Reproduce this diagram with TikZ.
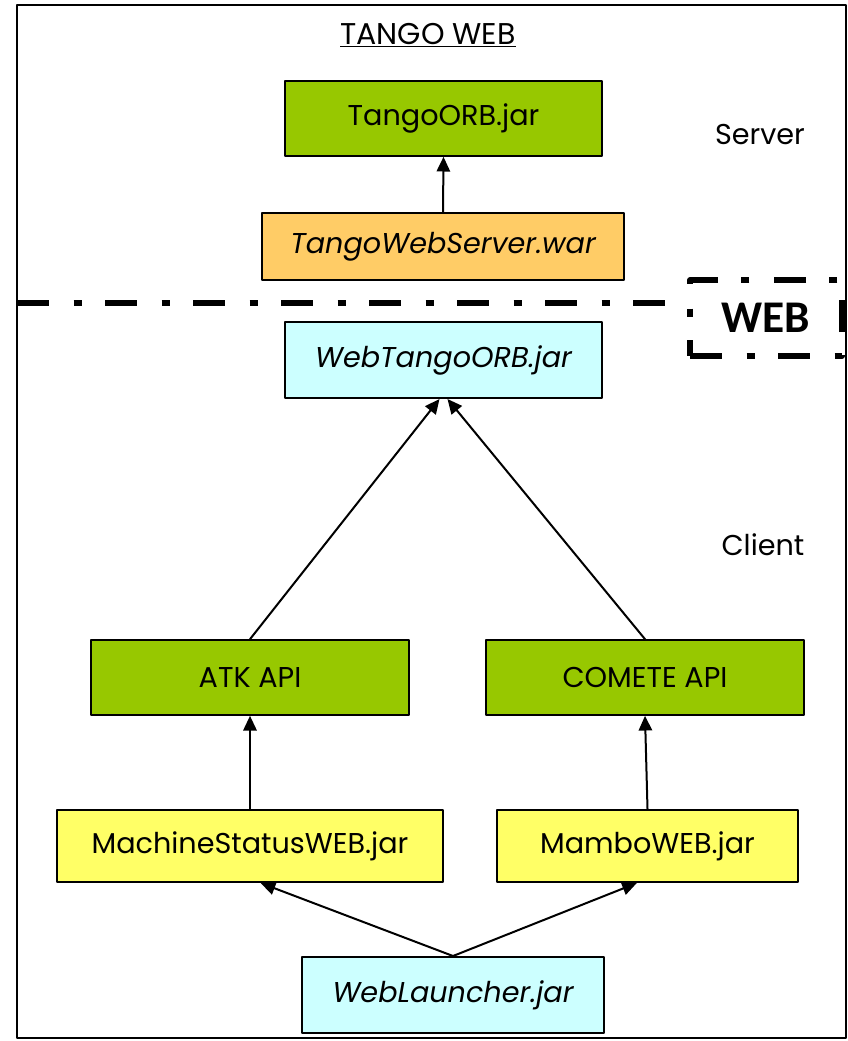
\documentclass[tikz,border=0pt]{standalone}
\usepackage{fontspec}
\setmainfont{Poppins}
\newfontfamily\webfont{Carlito}
\usetikzlibrary{arrows.meta}
\definecolor{jargreen}{HTML}{97C800}
\definecolor{warorange}{HTML}{FFCC66}
\definecolor{webcyan}{HTML}{CCFFFF}
\definecolor{appyellow}{HTML}{FFFF66}
\tikzset{
 jar/.style={draw, line width=1.5pt, inner sep=0pt, minimum height=56pt, font=\fontsize{21.5}{26}\selectfont},
 sepline/.style={line width=4.6pt, dash pattern=on 24pt off 18.5pt on 6pt off 17.5pt}
}
\begin{document}
\begin{tikzpicture}[x=0.75pt, y=-0.75pt, line join=round, >={Triangle[length=11pt,width=10pt]}]
 \useasboundingbox (0,0) rectangle (848,1041);
 \draw[line width=1.1pt] (17,5) rectangle (846,1038);
 \node (title) at (428,35) {\fontsize{22.5}{26}\selectfont\underline{TANGO WEB}};
 \node (srv) at (760,135) {\fontsize{21.5}{26}\selectfont Server};
 \node (cli) at (763,545) {\fontsize{21.5}{26}\selectfont Client};
 % server side
 \node[jar, fill=jargreen, minimum width=238pt] (orb) at (443.5,118.5) {TangoORB.jar};
 \node[jar, fill=warorange, minimum width=271pt, minimum height=50pt] (war) at (443,246.5) {\itshape TangoWebServer.war};
 % web limit
 \node[draw, sepline, line width=4.2pt, minimum width=114pt, minimum height=57pt, font=\webfont\bfseries\fontsize{34}{40}\selectfont] (web) at (766,318) {WEB};
 \draw[sepline] (17,303) -- (web.west |- 17,303);
 % client side
 \node[jar, fill=webcyan, minimum width=238pt, minimum height=57pt] (weborb) at (443.5,360) {\itshape WebTangoORB.jar};
 \node[jar, fill=jargreen, minimum width=238pt] (atk) at (250,677.5) {ATK API};
 \node[jar, fill=jargreen, minimum width=238pt] (comete) at (645,677.5) {COMETE API};
 \node[jar, fill=appyellow, minimum width=289pt, minimum height=54pt] (machine) at (250,846) {MachineStatusWEB.jar};
 \node[jar, fill=appyellow, minimum width=226pt, minimum height=54pt] (mambo) at (647.5,846) {MamboWEB.jar};
 \node[jar, fill=webcyan, minimum width=226pt, minimum height=57pt] (launcher) at (453,995) {\itshape WebLauncher.jar};
 \foreach \a/\b in {war.north/orb.south, machine.north/atk.south, mambo.north/comete.south}
 \draw[->, line width=1.5pt] (\a) -- (\b);
 \draw[->, line width=1.5pt] (atk.north) -- ([xshift=-3pt]weborb.south);
 \draw[->, line width=1.5pt] (comete.north) -- ([xshift=3pt]weborb.south);
 \draw[->, line width=1.5pt] (launcher.north) -- ([xshift=8pt]machine.south);
 \draw[->, line width=1.5pt] (launcher.north) -- ([xshift=-8pt]mambo.south);
\end{tikzpicture}
\end{document}
